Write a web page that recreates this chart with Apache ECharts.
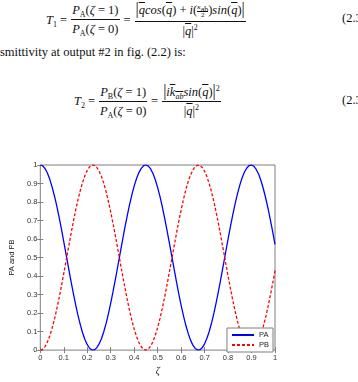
<!DOCTYPE html>
<html><head><meta charset="utf-8">
<script src="https://cdn.jsdelivr.net/npm/echarts@6/dist/echarts.min.js"></script>
<style>
html,body{margin:0;padding:0;background:#fff;width:358px;height:382px;overflow:hidden;}
#chart{position:absolute;left:0;top:0;width:358px;height:382px;}
.tx{position:absolute;font-family:"Liberation Serif","DejaVu Serif",serif;font-size:12.5px;color:#111;white-space:nowrap;line-height:14px;}
.row{display:flex;align-items:center;}
.frac{display:inline-flex;flex-direction:column;align-items:center;margin:0 4px;}
.frac>.n{padding:0 1px 2px;border-bottom:0.9px solid #111;}
.frac>.d{padding-top:2px;}
i{font-style:italic;}
.ov{text-decoration:overline;}
sub{font-size:8px;vertical-align:-3px;line-height:0;}
sup{font-size:8px;vertical-align:5px;line-height:0;}
.sm{display:inline-flex;flex-direction:column;align-items:center;font-size:7px;line-height:7px;vertical-align:middle;}
.sm>.n{border-bottom:0.6px solid #111;}
.big{font-size:16px;}
</style>
</head><body>
<div class="tx row" style="left:46px;top:2px;">
  <span><i>T</i><sub>1</sub>&nbsp;=</span>
  <span class="frac"><span class="n"><i>P</i><sub>A</sub>(<i>ζ</i> = 1)</span><span class="d"><i>P</i><sub>A</sub>(<i>ζ</i> = 0)</span></span><span>=</span>
  <span class="frac"><span class="n"><span class="big">|</span><i class="ov">q</i><i>cos</i>(<i class="ov">q</i>) + <i>i</i>(<span class="sm"><span class="n"><i>κ</i><sub>ab</sub></span><span>2</span></span>)<i>sin</i>(<i class="ov">q</i>)<span class="big">|</span></span><span class="d">|<i class="ov">q</i>|<sup>2</sup></span></span>
</div>
<div class="tx" style="left:342px;top:11px;">(2.3</div>
<div class="tx" style="left:0px;top:45px;">smittivity at output #2 in fig. (2.2) is:</div>
<div class="tx row" style="left:74px;top:84px;">
  <span><i>T</i><sub>2</sub>&nbsp;=</span>
  <span class="frac"><span class="n"><i>P</i><sub>B</sub>(<i>ζ</i> = 1)</span><span class="d"><i>P</i><sub>A</sub>(<i>ζ</i> = 0)</span></span><span>=</span>
  <span class="frac"><span class="n"><span class="big">|</span><i>i</i><i class="ov">k<sub>ab</sub></i><i>sin</i>(<i class="ov">q</i>)<span class="big">|</span><sup>2</sup></span><span class="d">|<i class="ov">q</i>|<sup>2</sup></span></span>
</div>
<div class="tx" style="left:342px;top:93px;">(2.3</div>
<div id="chart"></div>
<script>
const zeta = [0,0.01,0.02,0.03,0.04,0.05,0.06,0.07,0.08,0.09,0.1,0.11,0.12,0.13,0.14,0.15,0.16,0.17,0.18,0.19,0.2,0.21,0.22,0.23,0.24,0.25,0.26,0.27,0.28,0.29,0.3,0.31,0.32,0.33,0.34,0.35,0.36,0.37,0.38,0.39,0.4,0.41,0.42,0.43,0.44,0.45,0.46,0.47,0.48,0.49,0.5,0.51,0.52,0.53,0.54,0.55,0.56,0.57,0.58,0.59,0.6,0.61,0.62,0.63,0.64,0.65,0.66,0.67,0.68,0.69,0.7,0.71,0.72,0.73,0.74,0.75,0.76,0.77,0.78,0.79,0.8,0.81,0.82,0.83,0.84,0.85,0.86,0.87,0.88,0.89,0.9,0.91,0.92,0.93,0.94,0.95,0.96,0.97,0.98,0.99,1];
const paValues = [1.000,0.995,0.981,0.957,0.924,0.882,0.834,0.779,0.718,0.653,0.585,0.516,0.446,0.377,0.311,0.248,0.190,0.139,0.094,0.057,0.029,0.010,0.001,0.001,0.012,0.032,0.060,0.098,0.143,0.196,0.254,0.317,0.384,0.453,0.523,0.592,0.660,0.724,0.785,0.839,0.887,0.927,0.959,0.982,0.996,1.000,0.994,0.979,0.954,0.920,0.878,0.829,0.773,0.712,0.646,0.578,0.509,0.439,0.370,0.304,0.242,0.185,0.134,0.090,0.054,0.027,0.009,0.001,0.002,0.013,0.034,0.064,0.102,0.148,0.201,0.260,0.324,0.391,0.460,0.530,0.599,0.667,0.731,0.790,0.844,0.891,0.931,0.962,0.984,0.997,1.000,0.993,0.976,0.951,0.916,0.873,0.823,0.767,0.705,0.640,0.571];
const pbValues = [0.000,0.005,0.019,0.043,0.076,0.118,0.166,0.221,0.282,0.347,0.415,0.484,0.554,0.623,0.689,0.752,0.810,0.861,0.906,0.943,0.971,0.990,0.999,0.999,0.988,0.968,0.940,0.902,0.857,0.804,0.746,0.683,0.616,0.547,0.477,0.408,0.340,0.276,0.215,0.161,0.113,0.073,0.041,0.018,0.004,0.000,0.006,0.021,0.046,0.080,0.122,0.171,0.227,0.288,0.354,0.422,0.491,0.561,0.630,0.696,0.758,0.815,0.866,0.910,0.946,0.973,0.991,0.999,0.998,0.987,0.966,0.936,0.898,0.852,0.799,0.740,0.676,0.609,0.540,0.470,0.401,0.333,0.269,0.210,0.156,0.109,0.069,0.038,0.016,0.003,0.000,0.007,0.024,0.049,0.084,0.127,0.177,0.233,0.295,0.360,0.429];
const seriesNames = ['PA','PB'];
const xAxisName = 'ζ';
const yAxisName = 'PA and PB';

const chart = echarts.init(document.getElementById('chart'), null, {renderer:'canvas'});
const gray = '#7f7f7f';
const tickFont = {fontSize:7.5, color:'#333', fontFamily:'Liberation Sans, Arial, sans-serif'};
function hiddenAxis(pos){
  return {type:'value', min:0, max:1, interval:0.1, position:pos,
    axisLine:{show:false}, axisLabel:{show:false}, splitLine:{show:false},
    axisTick:{inside:true, length:3, lineStyle:{color:gray}}};
}
chart.setOption({
  animation:false,
  backgroundColor:'transparent',
  grid:{left:32, top:165, right:83, bottom:25, show:true, borderColor:gray, borderWidth:1, backgroundColor:'#fff'},
  xAxis:[
    {type:'value', min:0, max:1, interval:0.1, position:'bottom',
     axisLine:{show:false}, splitLine:{show:false},
     axisTick:{inside:true, length:3, lineStyle:{color:gray}},
     axisLabel:Object.assign({margin:4}, tickFont),
     name:xAxisName, nameLocation:'middle', nameGap:16,
     nameTextStyle:{fontSize:10, fontStyle:'italic', fontFamily:'Liberation Serif, serif', color:'#222'}},
    hiddenAxis('top')
  ],
  yAxis:[
    {type:'value', min:0, max:1, interval:0.1, position:'left',
     axisLine:{show:false}, splitLine:{show:false},
     axisTick:{inside:true, length:3, lineStyle:{color:gray}},
     axisLabel:Object.assign({margin:3}, tickFont),
     name:yAxisName, nameLocation:'middle', nameGap:18,
     nameTextStyle:{fontSize:7.5, fontFamily:'Liberation Sans, Arial, sans-serif', color:'#222'}},
    hiddenAxis('right')
  ],
  legend:{data:seriesNames, orient:'vertical', right:85, bottom:30,
    itemWidth:22, itemHeight:8, itemGap:2, padding:[3,4,3,4],
    itemStyle:{opacity:0},
    borderColor:gray, borderWidth:1, backgroundColor:'#fff', borderRadius:0,
    textStyle:{fontSize:7.5, color:'#222', fontFamily:'Liberation Sans, Arial, sans-serif'}},
  series:[
    {name:seriesNames[0], type:'line', symbol:'none', xAxisIndex:0, yAxisIndex:0,
     data:zeta.map((z,i)=>[z, paValues[i]]),
     lineStyle:{color:'#0000ff', width:1.3}, itemStyle:{color:'#0000ff'}},
    {name:seriesNames[1], type:'line', symbol:'none', xAxisIndex:0, yAxisIndex:0,
     data:zeta.map((z,i)=>[z, pbValues[i]]),
     lineStyle:{color:'#ff0000', width:1.3, type:[3,2]}, itemStyle:{color:'#ff0000'}}
  ]
});
</script>
</body></html>
